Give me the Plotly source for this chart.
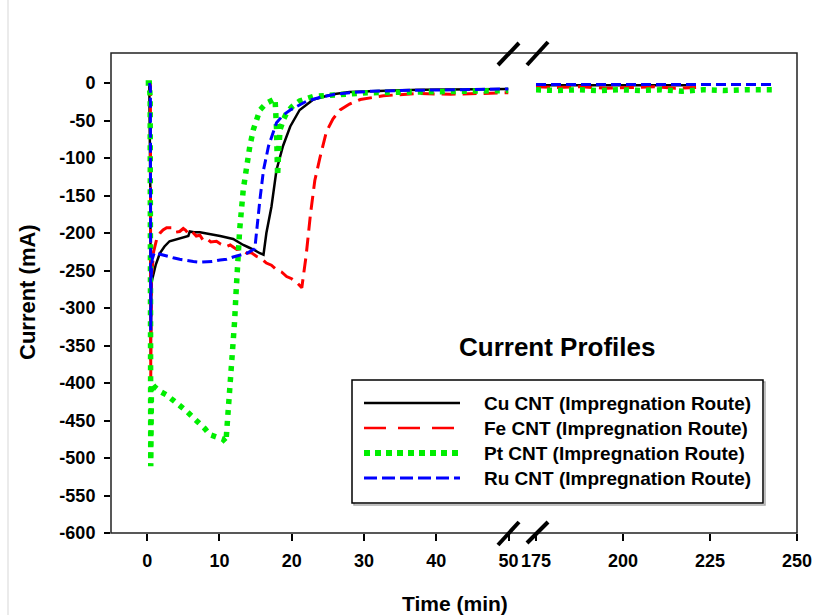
import plotly.graph_objects as go

# ---------------- data (time in min, current in mA) ----------------
# Left segment of the broken axis (0-50 min)
cu_t = [0, 0.3, 0.45, 0.5, 0.55, 0.6, 0.83, 1.2, 1.76, 2.4, 3.1, 3.8, 4.5, 5.2, 5.7, 5.9, 6.5, 7.3, 8.5,
        10.1, 11.9, 12.4, 13.3, 14.0, 14.7, 15.6, 16.1, 16.5, 17.2, 17.9, 18.8, 19.8, 21.1, 23.0, 25.7,
        28.0, 30.4, 34.0, 37.8, 42.0, 46.0, 50.0]
cu_i = [0, -1, -150, -370, -300, -266, -258, -242, -227, -218, -211, -209, -207, -205, -204, -198, -199,
        -199, -201, -204, -208, -211, -216, -219, -222, -227, -229, -200, -165, -116, -84, -58, -36, -22,
        -15, -12, -11, -10, -9, -9, -8, -8]

fe_t = [0.3, 0.45, 0.5, 0.55, 0.6, 0.9, 1.3, 1.8, 2.2, 2.7, 3.4, 3.9, 4.5, 5.0, 5.3, 5.8, 6.3, 6.8, 7.3,
        7.7, 8.2, 8.8, 9.6, 10.2, 11.0, 11.5, 12.4, 13.0, 13.8, 14.4, 15.1, 15.8, 16.5, 17.2, 17.9, 18.6,
        19.3, 20.0, 20.7, 21.4, 22.0, 22.6, 23.2, 23.9, 24.8, 25.7, 26.7, 28.0, 29.5, 32.7, 37.3, 42.0,
        46.0, 50.0]
fe_i = [0, 0, -393, -300, -260, -225, -209, -200, -196, -193, -193, -199, -198, -194, -196, -202, -199,
        -204, -203, -209, -207, -212, -211, -215, -218, -216, -222, -221, -227, -226, -231, -234, -240,
        -243, -249, -252, -258, -261, -266, -273, -230, -175, -130, -100, -65, -48, -36, -28, -22, -17,
        -14, -15, -14, -13]

pt_t = [-0.2, 0.3, 0.42, 0.5, 0.55, 0.6, 1.0, 1.76, 2.7, 3.6, 4.5, 5.5, 6.4, 7.3, 8.0, 8.7, 9.6, 10.5,
        10.9, 11.1, 11.3, 11.5, 11.7, 11.9, 12.1, 12.3, 12.5, 12.8, 13.3, 13.8, 14.2, 14.7, 15.2, 15.6,
        16.5, 17.2, 17.7, 17.9, 18.05, 18.2, 18.4, 18.9, 19.3, 20.0, 21.1, 23.0, 25.7, 30.4, 37.8, 44.0,
        50.0]
pt_i = [0, 0, -20, -511, -450, -400, -405, -411, -416, -422, -430, -438, -446, -453, -461, -469, -473,
        -475, -479, -453, -435, -418, -390, -360, -318, -280, -240, -196, -142, -107, -85, -62, -47, -36,
        -27, -23, -21, -60, -124, -90, -62, -48, -40, -32, -24, -18, -16, -13, -12, -11, -10]

ru_t = [0.3, 0.45, 0.5, 0.55, 0.7, 1.0, 1.3, 2.0, 2.7, 3.6, 4.5, 5.5, 6.4, 7.3, 8.2, 9.0, 10.1, 11.0, 11.9,
        12.8, 13.8, 14.9, 15.1, 15.3, 15.6, 16.1, 16.8, 17.9, 18.8, 19.8, 22.1, 24.0, 26.0, 28.0, 31.0,
        35.0, 40.0, 45.0, 50.0]
ru_i = [0, -5, -330, -260, -235, -226, -227, -229, -231, -233, -235, -237, -238, -239, -239, -238, -236,
        -235, -232, -230, -227, -221, -200, -180, -156, -116, -84, -53, -43, -36, -24, -19, -15, -13, -11,
        -10, -9, -8, -8]

# Right segment of the broken axis (175-250 min)
cu_t2 = [175, 182, 190, 198, 205, 212, 220]
cu_i2 = [-3, -3, -4, -3, -4, -3, -3]
fe_t2 = [175, 181, 188, 195, 202, 209, 215, 221]
fe_i2 = [-5, -6, -5, -7, -6, -5, -7, -6]
pt_t2 = [175, 181, 187, 193, 199, 205, 211, 217, 223, 229, 235, 243.5]
pt_i2 = [-9, -10, -9, -10, -9, -10, -9, -11, -9, -10, -9, -9]
ru_t2 = [175, 185, 195, 205, 215, 225, 235, 243.5]
ru_i2 = [-2, -2, -2, -2, -2, -2, -2, -2]

names = ["Cu CNT (Impregnation Route)", "Fe CNT (Impregnation Route)",
         "Pt CNT (Impregnation Route)", "Ru CNT (Impregnation Route)"]
colors = ["#000000", "#ff0000", "#00ee00", "#0000ff"]
dashes = ["solid", "14px,7px", "5px,6px", "10px,5px"]
legend_dashes = ["solid", "22px,12px", "6px,5px", "13px,5px"]
widths = [2.5, 3, 5.5, 3]
legend_widths = [2.5, 2.5, 6, 3]

x_ticks_left = [0, 10, 20, 30, 40, 50]
x_ticks_right = [175, 200, 225, 250]
y_ticks = list(range(-600, 1, 50))
y_ticktext = [str(v) for v in y_ticks]

left_sets = [(cu_t, cu_i), (fe_t, fe_i), (pt_t, pt_i), (ru_t, ru_i)]
right_sets = [(cu_t2, cu_i2), (fe_t2, fe_i2), (pt_t2, pt_i2), (ru_t2, ru_i2)]

FONT = "Liberation Sans, Arial, sans-serif"

fig = go.Figure()
for k in range(4):
    ln = dict(color=colors[k], width=widths[k], dash=dashes[k])
    fig.add_trace(go.Scatter(x=left_sets[k][0], y=left_sets[k][1], mode="lines", line=ln,
                             name=names[k], showlegend=False, xaxis="x", yaxis="y"))
    fig.add_trace(go.Scatter(x=right_sets[k][0], y=right_sets[k][1], mode="lines", line=ln,
                             name=names[k], showlegend=False, xaxis="x2", yaxis="y"))

# ---------------- layout helpers (pixel -> paper) ----------------
L, R, T, B = 111, 26, 53, 82
W, H = 823, 615
PW, PH = W - L - R, H - T - B


def PX(x):
    return (x - L) / PW


def PY(y):
    return (H - B - y) / PH


tickfont = dict(family=FONT, size=18, color="black", weight="bold")
common = dict(showgrid=False, zeroline=False, showline=False, ticks="outside", tickcolor="black",
              tickwidth=1.5, tickfont=tickfont)

fig.update_layout(
    width=W, height=H, margin=dict(l=L, r=R, t=T, b=B, pad=0),
    paper_bgcolor="white", plot_bgcolor="white", showlegend=False,
    xaxis=dict(domain=[0, PX(508.5)], range=[-5, 50], tickvals=x_ticks_left, ticklen=7, anchor="y",
               ticklabelstandoff=4, **common),
    xaxis2=dict(domain=[PX(536), 1], range=[175, 250], tickvals=x_ticks_right, ticklen=7, anchor="y",
                ticklabelstandoff=4, **common),
    yaxis=dict(domain=[0, 1], range=[-600, 40], tickvals=y_ticks, ticktext=y_ticktext, ticklen=6,
               anchor="x", ticklabelstandoff=5, **common),
)

shapes = []
# faint page edge line
shapes.append(dict(type="line", xref="paper", yref="paper", x0=PX(8), x1=PX(8), y0=PY(0), y1=PY(615),
                   line=dict(color="#e4e4e4", width=1.5)))
# plot frame
shapes.append(dict(type="rect", xref="paper", yref="paper", x0=0, x1=1, y0=0, y1=1,
                   line=dict(color="#222222", width=1.5)))
# axis break marks
for (x0, y0, x1, y1) in [(498, 65, 519, 43), (527, 65, 548, 42), (498, 545, 519, 522), (527, 543, 548, 522)]:
    shapes.append(dict(type="line", xref="paper", yref="paper", x0=PX(x0), y0=PY(y0), x1=PX(x1), y1=PY(y1),
                       line=dict(color="black", width=4)))
# legend box (with slight shadow)
shapes.append(dict(type="rect", xref="paper", yref="paper", x0=PX(354), x1=PX(765), y0=PY(505), y1=PY(382),
                   line=dict(color="#aaaaaa", width=1.5)))
shapes.append(dict(type="rect", xref="paper", yref="paper", x0=PX(352), x1=PX(763), y0=PY(503), y1=PY(380),
                   line=dict(color="black", width=1.5), fillcolor="white"))

annotations = []
rows = [403, 428, 453, 478]
for k in range(4):
    shapes.append(dict(type="line", xref="paper", yref="paper", x0=PX(364), x1=PX(460), y0=PY(rows[k]),
                       y1=PY(rows[k]), line=dict(color=colors[k], width=legend_widths[k],
                                                 dash=legend_dashes[k])))
    annotations.append(dict(text=names[k], xref="paper", yref="paper", x=PX(482), y=PY(rows[k]),
                            xanchor="left", yanchor="middle", showarrow=False,
                            font=dict(family=FONT, size=19, color="black", weight="bold")))

annotations.append(dict(text="Current Profiles", xref="paper", yref="paper", x=PX(557), y=PY(347),
                        xanchor="center", yanchor="middle", showarrow=False,
                        font=dict(family=FONT, size=26, color="black", weight="bold")))
annotations.append(dict(text="Current (mA)", xref="paper", yref="paper", x=PX(27), y=PY(292),
                        xanchor="center", yanchor="middle", textangle=-90, showarrow=False,
                        font=dict(family=FONT, size=22, color="black", weight="bold")))
annotations.append(dict(text="Time (min)", xref="paper", yref="paper", x=PX(455), y=PY(603),
                        xanchor="center", yanchor="middle", showarrow=False,
                        font=dict(family=FONT, size=21, color="black", weight="bold")))

fig.update_layout(shapes=shapes, annotations=annotations)

fig.write_html("out.html")
